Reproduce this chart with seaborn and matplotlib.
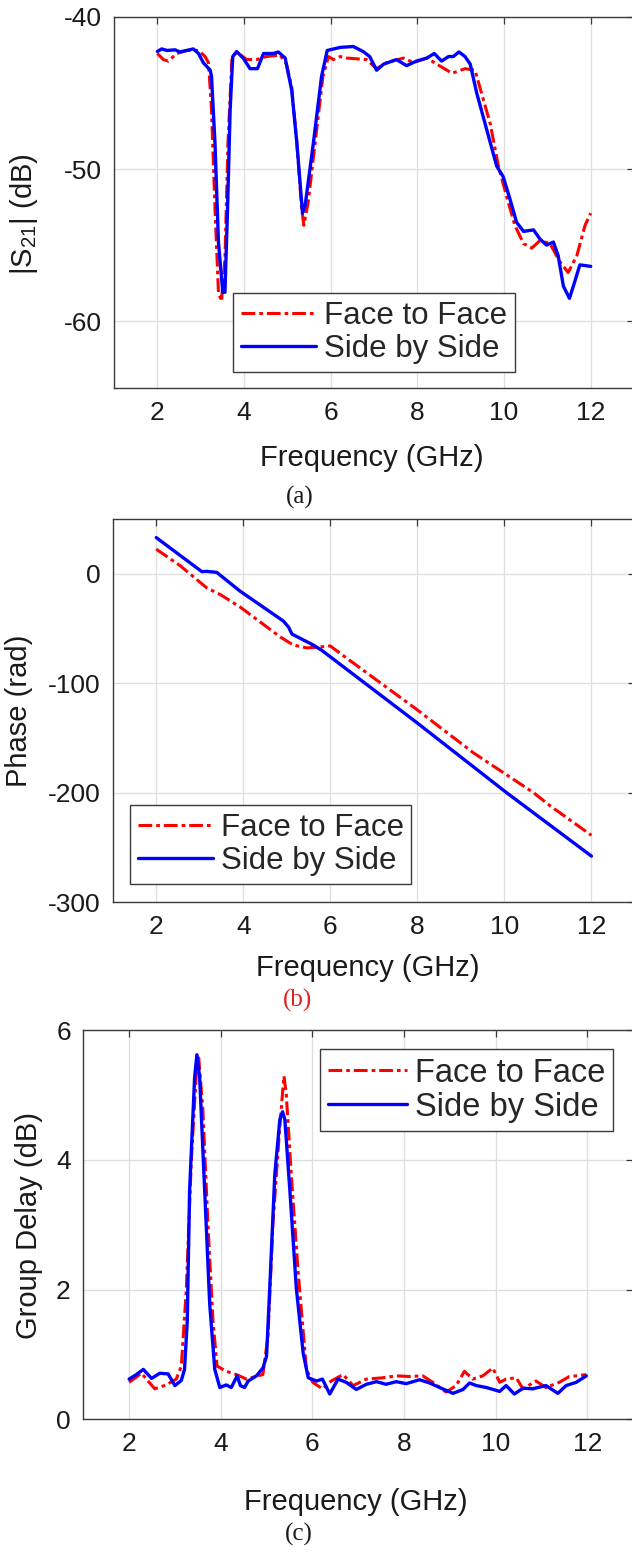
import matplotlib
matplotlib.use('Agg')
import matplotlib.pyplot as plt
import seaborn as sns
import pandas as pd

# (a) |S21| magnitude
s21_ftf_freq = [2.0, 2.14, 2.25, 2.45, 2.68, 2.95, 3.1, 3.18, 3.25, 3.33, 3.41, 3.48, 3.56, 3.63,
                3.72, 3.83, 4.06, 4.29, 4.52, 4.83, 4.98, 5.1, 5.22, 5.33, 5.38, 5.48, 5.64, 5.82,
                5.95, 6.06, 6.22, 6.37, 6.83, 7.06, 7.29, 7.68, 7.91, 8.22, 8.45, 8.8, 9.1, 9.33,
                9.48, 9.68, 9.87, 10.06, 10.25, 10.45, 10.64, 10.83, 11.06, 11.29, 11.48, 11.68,
                11.87, 12.0]
s21_ftf_db = [-42.4, -42.8, -42.9, -42.4, -42.2, -42.2, -42.6, -43.0, -46.1, -52.6, -58.1, -58.7,
              -55.9, -48.3, -42.8, -42.3, -42.8, -42.8, -42.6, -42.5, -43.1, -44.6, -48.3, -52.6,
              -53.7, -52.2, -48.3, -43.9, -42.6, -42.8, -42.6, -42.7, -42.8, -43.4, -43.0, -42.7,
              -43.0, -42.7, -43.1, -43.7, -43.4, -43.5, -45.0, -47.0, -49.8, -51.8, -53.7, -54.9,
              -55.2, -54.7, -54.9, -56.1, -56.8, -55.7, -53.7, -52.9]
s21_sbs_freq = [2.0, 2.1, 2.22, 2.41, 2.52, 2.83, 2.95, 3.06, 3.22, 3.25, 3.33, 3.41, 3.51, 3.56,
                3.62, 3.68, 3.74, 3.83, 3.98, 4.14, 4.31, 4.45, 4.68, 4.79, 4.95, 5.02, 5.1, 5.22,
                5.35, 5.41, 5.6, 5.79, 5.92, 6.22, 6.52, 6.75, 6.9, 7.06, 7.22, 7.52, 7.75, 7.98,
                8.22, 8.39, 8.56, 8.72, 8.83, 8.96, 9.1, 9.22, 9.37, 9.6, 9.83, 9.98, 10.14, 10.29,
                10.45, 10.68, 10.83, 10.98, 11.14, 11.25, 11.37, 11.51, 11.6, 11.75, 12.0]
s21_sbs_db = [-42.27, -42.1, -42.2, -42.16, -42.3, -42.1, -42.4, -43.0, -43.5, -43.9, -48.3, -54.8,
              -58.1, -58.1, -52.6, -46.1, -42.6, -42.27, -42.7, -43.4, -43.4, -42.4, -42.4, -42.3,
              -42.7, -43.7, -44.8, -48.3, -52.9, -52.4, -48.3, -43.9, -42.2, -42.0, -41.94, -42.27,
              -42.6, -43.5, -43.1, -42.8, -43.2, -42.9, -42.7, -42.4, -42.9, -42.6, -42.6, -42.3,
              -42.6, -43.1, -45.0, -47.4, -49.8, -50.5, -52.0, -53.5, -54.1, -54.0, -54.6, -55.0,
              -54.8, -55.7, -57.7, -58.5, -57.7, -56.3, -56.4]

# (b) phase
ph_ftf_freq = [2.0, 2.55, 3.16, 3.47, 3.93, 4.85, 5.15, 5.46, 5.77, 6.0, 6.23, 7.99, 9.29, 10.67,
               11.05, 12.0]
ph_ftf_rad = [22.7, 7.6, -12.7, -18.8, -30.3, -57.6, -65.0, -67.6, -66.7, -65.8, -72.7, -124.0,
              -163.6, -200.0, -212.0, -239.0]
ph_sbs_freq = [2.0, 3.05, 3.16, 3.39, 3.93, 4.92, 5.04, 5.12, 5.61, 5.81, 7.99, 10.05, 12.0]
ph_sbs_rad = [33.3, 2.1, 2.4, 1.5, -15.8, -43.0, -48.5, -55.0, -65.0, -70.0, -136.0, -200.0, -258.0]

# (c) group delay
gd_ftf_freq = [2.0, 2.27, 2.56, 2.81, 3.03, 3.14, 3.25, 3.36, 3.47, 3.52, 3.61, 3.72, 3.83, 3.92,
               4.12, 4.34, 4.56, 4.92, 5.03, 5.14, 5.29, 5.38, 5.43, 5.54, 5.69, 5.87, 6.01, 6.22,
               6.41, 6.67, 6.89, 7.18, 7.54, 7.83, 8.12, 8.41, 8.63, 8.92, 9.14, 9.32, 9.5, 9.72,
               9.94, 10.09, 10.23, 10.45, 10.6, 10.88, 11.1, 11.39, 11.61, 11.76, 11.98]
gd_ftf_val = [0.57, 0.71, 0.47, 0.53, 0.62, 0.82, 2.02, 4.02, 5.37, 5.57, 4.77, 3.02, 1.52, 0.82,
              0.74, 0.69, 0.62, 0.69, 1.27, 3.02, 4.52, 5.29, 5.02, 3.77, 2.27, 0.77, 0.57, 0.47,
              0.59, 0.69, 0.52, 0.62, 0.64, 0.67, 0.66, 0.67, 0.57, 0.42, 0.52, 0.74, 0.62, 0.67,
              0.79, 0.57, 0.62, 0.64, 0.47, 0.59, 0.49, 0.57, 0.66, 0.67, 0.69]
gd_sbs_freq = [2.0, 2.16, 2.31, 2.49, 2.67, 2.85, 3.0, 3.14, 3.21, 3.27, 3.32, 3.43, 3.48, 3.54,
               3.65, 3.76, 3.87, 3.98, 4.12, 4.23, 4.36, 4.43, 4.52, 4.6, 4.78, 4.92, 5.0, 5.07,
               5.18, 5.29, 5.35, 5.4, 5.51, 5.65, 5.8, 5.91, 6.09, 6.22, 6.38, 6.56, 6.74, 6.96,
               7.18, 7.4, 7.61, 7.83, 8.05, 8.34, 8.56, 8.78, 9.07, 9.29, 9.43, 9.58, 9.8, 10.09,
               10.23, 10.41, 10.6, 10.81, 11.1, 11.36, 11.54, 11.76, 11.98]
gd_sbs_val = [0.62, 0.69, 0.77, 0.63, 0.71, 0.70, 0.52, 0.60, 0.77, 1.52, 3.52, 5.27, 5.62, 5.27,
              3.52, 1.77, 0.77, 0.49, 0.53, 0.49, 0.67, 0.52, 0.49, 0.59, 0.67, 0.79, 0.97, 2.02,
              3.77, 4.62, 4.74, 4.62, 3.52, 2.02, 1.02, 0.64, 0.59, 0.62, 0.39, 0.62, 0.57, 0.46,
              0.54, 0.58, 0.54, 0.58, 0.55, 0.61, 0.56, 0.49, 0.40, 0.46, 0.56, 0.52, 0.49, 0.43,
              0.52, 0.39, 0.48, 0.47, 0.52, 0.40, 0.52, 0.57, 0.67]

labels = ['Face to Face', 'Side by Side']
x_ticks = [2, 4, 6, 8, 10, 12]

sns.set_theme(style='whitegrid')
plt.rcParams['font.family'] = ['Liberation Sans', 'DejaVu Sans']
plt.rcParams['mathtext.fontset'] = 'custom'
plt.rcParams['mathtext.rm'] = 'Liberation Sans'
plt.rcParams['axes.unicode_minus'] = False

fig = plt.figure(figsize=(6.32, 15.59), dpi=100)
ax_a = fig.add_axes([0.1804, 0.7511, 0.8228, 0.2380])
ax_b = fig.add_axes([0.1783, 0.4214, 0.8264, 0.2455])
ax_c = fig.add_axes([0.1318, 0.0896, 0.8698, 0.2497])

dashdot = (0, (4.5, 1.3, 1.2, 1.3))
red = '#ff0000'
blue = '#0000ff'


def draw(ax, f1, v1, f2, v2):
    d1 = pd.DataFrame({'f': f1, 'v': v1})
    d2 = pd.DataFrame({'f': f2, 'v': v2})
    sns.lineplot(data=d1, x='f', y='v', ax=ax, color=red, linewidth=2.2, sort=False,
                 label=labels[0], linestyle=dashdot, zorder=3)
    sns.lineplot(data=d2, x='f', y='v', ax=ax, color=blue, linewidth=2.4, sort=False,
                 label=labels[1], zorder=4)


def style(ax, ylim, yticks, ylabel, ylab_xy, xlab_xy):
    ax.set_facecolor('white')
    ax.set_xlim(1, 13)
    ax.set_ylim(*ylim)
    ax.set_xticks(x_ticks)
    ax.set_yticks(yticks)
    ax.grid(True, color='#dedede', linewidth=0.9)
    for sp in ax.spines.values():
        sp.set_color('#3a3a3a')
        sp.set_linewidth(1.0)
    ax.tick_params(direction='in', length=5, width=0.9, color='#3a3a3a',
                   top=True, right=True, labelsize=19, labelcolor='#1a1a1a')
    ax.tick_params(axis='x', pad=9)
    ax.tick_params(axis='y', pad=9)
    ax.set_xlabel('Frequency (GHz)', fontsize=21, color='#1a1a1a')
    ax.set_ylabel(ylabel, fontsize=21, color='#1a1a1a')
    ax.xaxis.set_label_coords(*xlab_xy)
    ax.yaxis.set_label_coords(*ylab_xy)


def legend(ax, loc, anchor, size=22.5):
    lg = ax.legend(loc=loc, bbox_to_anchor=anchor, fontsize=size, handlelength=2.4,
                   handletextpad=0.25, borderpad=0.25, labelspacing=0.1, borderaxespad=0,
                   fancybox=False, framealpha=1, edgecolor='#3a3a3a')
    lg.get_frame().set_linewidth(1.0)


draw(ax_a, s21_ftf_freq, s21_ftf_db, s21_sbs_freq, s21_sbs_db)
style(ax_a, (-64.4, -40), [-60, -50, -40], r'|S$_{\mathregular{21}}$| (dB)',
      (-0.142, 0.47), (0.496, -0.151))
legend(ax_a, 'lower left', (0.229, 0.043))

draw(ax_b, ph_ftf_freq, ph_ftf_rad, ph_sbs_freq, ph_sbs_rad)
style(ax_b, (-300, 50), [-300, -200, -100, 0], 'Phase (rad)',
      (-0.153, 0.5), (0.489, -0.136))
legend(ax_b, 'lower left', (0.033, 0.047))

draw(ax_c, gd_ftf_freq, gd_ftf_val, gd_sbs_freq, gd_sbs_val)
style(ax_c, (0, 6), [0, 2, 4, 6], 'Group Delay (dB)',
      (-0.073, 0.497), (0.496, -0.176))
legend(ax_c, 'upper right', (0.964, 0.950), size=23.5)

cap_font = ['Liberation Serif', 'DejaVu Serif']
fig.text(300 / 632, 1 - 497 / 1559, '(a)', fontsize=18, family=cap_font,
         ha='center', va='center', color='#1a1a1a')
fig.text(297 / 632, 1 - 1000 / 1559, '(b)', fontsize=18, family=cap_font,
         ha='center', va='center', color='#e02020')
fig.text(299 / 632, 1 - 1534 / 1559, '(c)', fontsize=18, family=cap_font,
         ha='center', va='center', color='#1a1a1a')

fig.savefig('out.png', dpi=100)
